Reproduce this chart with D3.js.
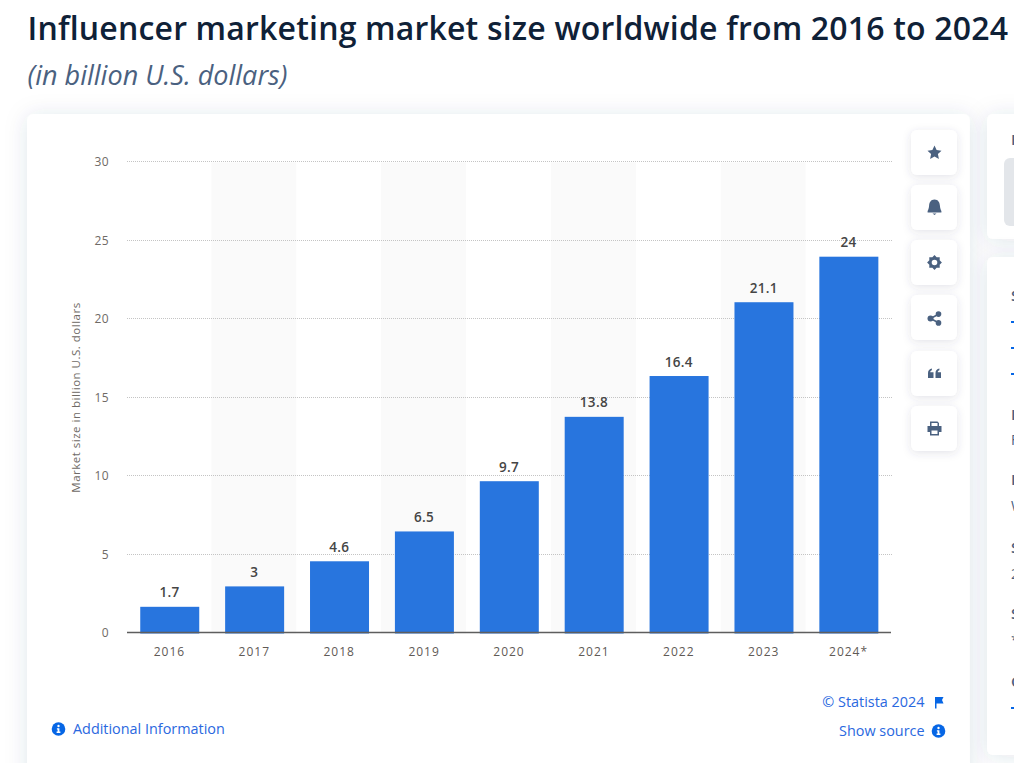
<!DOCTYPE html>
<html><head><meta charset="utf-8">
<script src="https://cdn.jsdelivr.net/npm/d3@7"></script>
<style>
html,body{margin:0;padding:0;background:#fff;overflow:hidden}
svg{display:block;font-family:"Open Sans",sans-serif}
</style></head><body>
<div id="chart"></div>
<script>
const categories=["2016","2017","2018","2019","2020","2021","2022","2023","2024*"];
const marketSize=[1.7,3,4.6,6.5,9.7,13.8,16.4,21.1,24];
const valueLabels=["1.7","3","4.6","6.5","9.7","13.8","16.4","21.1","24"];
const yTicks=[0,5,10,15,20,25,30];
const titleText="Influencer marketing market size worldwide from 2016 to 2024";
const subtitleText="(in billion U.S. dollars)";
const yAxisLabel="Market size in billion U.S. dollars";

const W=1014,H=763;
const svg=d3.select("#chart").append("svg").attr("width",W).attr("height",H);
const defs=svg.append("defs");
const mk=(id,dev,op)=>{const f=defs.append("filter").attr("id",id).attr("x","-30%").attr("y","-30%").attr("width","160%").attr("height","160%");
 f.append("feDropShadow").attr("dx",0).attr("dy",2).attr("stdDeviation",dev).attr("flood-color","#3a4a6b").attr("flood-opacity",op);};
mk("card",11,0.13);mk("btn",4,0.14);

svg.append("text").attr("x",27.5).attr("y",40).attr("font-size",32).attr("font-weight",600).attr("fill","#0f2137").attr("letter-spacing",0.18).text(titleText);
svg.append("text").attr("x",27.5).attr("y",85).attr("font-size",27).attr("font-style","italic").attr("fill","#4a6180").text(subtitleText);

// cards
svg.append("rect").attr("x",27).attr("y",114).attr("width",943).attr("height",680).attr("rx",7).attr("fill","#fff").attr("filter","url(#card)");
svg.append("rect").attr("x",987).attr("y",114).attr("width",60).attr("height",125).attr("rx",6).attr("fill","#fff").attr("filter","url(#card)");
svg.append("rect").attr("x",987).attr("y",257).attr("width",60).attr("height",498).attr("rx",6).attr("fill","#fff").attr("filter","url(#card)");
svg.append("rect").attr("x",1004).attr("y",158).attr("width",40).attr("height",68).attr("rx",6).attr("fill","#e3e6ea");

// clipped side-panel text
const side=[["F",145,15,600],["S",301,15,600],["I",420,15,600],["F",445,14,400],["I",485,15,600],["W",511,14,400],["S",553,15,600],["2",579,14,400],["S",619,15,600],["*",645,14,400],["O",687,15,600]];
svg.selectAll(".side").data(side).join("text").attr("x",1011).attr("y",d=>d[1]).attr("fill","#4a6180").attr("font-size",d=>d[2]).attr("font-weight",d=>d[3]).text(d=>d[0]);
svg.selectAll(".dash").data([321,347,373,707]).join("rect").attr("x",1011).attr("y",d=>d).attr("width",3).attr("height",2).attr("fill","#0666e5");

// scales
const x=d3.scaleBand().domain(categories).range([127,891]).paddingInner(0.305).paddingOuter(0.1525);
const y=d3.scaleLinear().domain([0,30]).range([633.5,162.5]);
const step=x.step();

// alternating bands
svg.append("g").selectAll("rect").data(categories.filter((d,i)=>i%2==1)).join("rect")
 .attr("x",d=>x(d)+x.bandwidth()/2-step/2-0.5).attr("width",step).attr("y",y(30)).attr("height",y(0)-y(30)).attr("fill","#fafafa");

// y axis and grid
const yAxis=d3.axisLeft(y).tickValues(yTicks).tickSize(0).tickPadding(0);
const gy=svg.append("g").attr("transform","translate(109,-0.5)").call(yAxis);
gy.select(".domain").remove();
gy.selectAll("text").attr("font-family","'Open Sans',sans-serif").attr("font-size",12).attr("fill","#6f6a66").attr("letter-spacing",0.4);
svg.append("g").selectAll("line").data(yTicks.filter(d=>d>0)).join("line")
 .attr("x1",127).attr("x2",892).attr("y1",d=>Math.floor(y(d)-0.8)+0.5).attr("y2",d=>Math.floor(y(d)-0.8)+0.5)
 .attr("stroke","#c4c4c4").attr("stroke-width",1).attr("stroke-dasharray","1 1");

// bars
svg.append("g").selectAll("rect").data(categories).join("rect")
 .attr("x",d=>x(d)+0.3).attr("width",x.bandwidth())
 .attr("y",(d,i)=>y(marketSize[i])).attr("height",(d,i)=>y(0)-y(marketSize[i]))
 .attr("fill","#2875de");

// value labels
svg.append("g").selectAll("text").data(categories).join("text")
 .attr("x",d=>x(d)+x.bandwidth()/2).attr("y",(d,i)=>y(marketSize[i])-9.5)
 .attr("text-anchor","middle").attr("font-size",13.5).attr("font-weight",600).attr("fill","#454545").attr("letter-spacing",0.3)
 .text((d,i)=>valueLabels[i]);

// x axis
const xAxis=d3.axisBottom(x).tickSize(0).tickPadding(0);
const gx=svg.append("g").attr("transform","translate(0,632.5)").call(xAxis);
gx.select(".domain").remove();
gx.selectAll("text").attr("font-family","'Open Sans',sans-serif").attr("font-size",12).attr("fill","#5f5a56").attr("letter-spacing",1).attr("dy",0).attr("y",23);
svg.append("line").attr("x1",127).attr("x2",891).attr("y1",632.5).attr("y2",632.5).attr("stroke","#5e5e5e").attr("stroke-width",1.5);

svg.append("text").attr("transform","translate(80,397.5) rotate(-90)").attr("text-anchor","middle")
 .attr("font-size",11.5).attr("fill","#6f6a66").attr("letter-spacing",0.5).text(yAxisLabel);

// footer links
const blue="#0666e5",link="#2a68e0";
function info(cx,cy){const g=svg.append("g").attr("transform",`translate(${cx},${cy})`);
 g.append("circle").attr("r",6.8).attr("fill",blue);
 g.append("circle").attr("cy",-3).attr("r",1.2).attr("fill","#fff");
 g.append("path").attr("d","M-1.6,-0.8H0.9V2.6H1.9V3.9H-1.9V2.6H-0.9V0.5H-1.6Z").attr("fill","#fff");}
info(58.5,729);
svg.append("text").attr("x",73).attr("y",734).attr("font-size",14.4).attr("fill",link).text("Additional Information");
svg.append("text").attr("x",924.5).attr("y",707).attr("text-anchor","end").attr("font-size",14.4).attr("fill",link).text("© Statista 2024");
svg.append("path").attr("d","M935,697H943.5L942,700L943.5,703.5H936.5V708.5H935Z").attr("fill",blue);
svg.append("text").attr("x",924.5).attr("y",736).attr("text-anchor","end").attr("font-size",14.4).attr("fill",link).text("Show source");
info(938.5,731);

// action buttons
const btnTops=[130,185,240,295,351,406];
const iconColor="#4a6180";
const icons=[
 g=>g.append("path").attr("d","M0,-7L2.1,-2.4L7,-1.8L3.4,1.5L4.4,6.5L0,4L-4.4,6.5L-3.4,1.5L-7,-1.8L-2.1,-2.4Z"),
 g=>g.append("path").attr("d","M0,-8C3.7,-8 5.2,-5 5.4,-2C5.6,1 6.4,2.6 6.9,3.6V5H-6.9V3.6C-6.4,2.6 -5.6,1 -5.4,-2C-5.2,-5 -3.7,-8 0,-8ZM-2,6H2L0,7.6Z"),
 g=>{g.append("path").attr("fill-rule","evenodd").attr("d",d3.range(16).map(i=>{const r=i%2?5.6:7.4,a=i*Math.PI/8;return (i?"L":"M")+(r*Math.sin(a)).toFixed(2)+","+(-r*Math.cos(a)).toFixed(2);}).join("")+"ZM2.8,0A2.8,2.8 0 1 0 -2.8,0A2.8,2.8 0 1 0 2.8,0Z");},
 g=>{g.attr("transform",`translate(934.5,${295+23.5})`);g.append("path").attr("d","M-4,0L4,-4.2M-4,0L4,4.2").attr("stroke",iconColor).attr("stroke-width",1.6).attr("fill","none");
  [[-4,0,3],[4,-4.4,2.8],[4,4.4,2.8]].forEach(c=>g.append("circle").attr("cx",c[0]).attr("cy",c[1]).attr("r",c[2]));},
 g=>g.append("path").attr("d","M-6.5,-0.5C-6.5,-3 -5,-4.5 -2.6,-5V-3.2C-3.6,-2.9 -4.2,-2.2 -4.3,-1.2H-1V4.5H-6.5ZM1,-0.5C1,-3 2.5,-4.5 4.9,-5V-3.2C3.9,-2.9 3.3,-2.2 3.2,-1.2H6.5V4.5H1Z"),
 g=>g.append("path").attr("fill-rule","evenodd").attr("d","M-4.5,-7H3L4.5,-5.5V-2.5H7V3.5H4.5V7H-4.5V3.5H-7V-2.5H-4.5ZM-3,-5.5V-2.5H3V-5.5ZM-3,2V5.5H3V2Z")
];
btnTops.forEach((t,i)=>{
 svg.append("rect").attr("x",911).attr("y",t).attr("width",46).attr("height",45).attr("rx",6).attr("fill","#fff").attr("filter","url(#btn)");
 const g=svg.append("g").attr("transform",`translate(934.5,${t+22.5})`).attr("fill",iconColor);
 icons[i](g);
});
</script>
</body></html>
